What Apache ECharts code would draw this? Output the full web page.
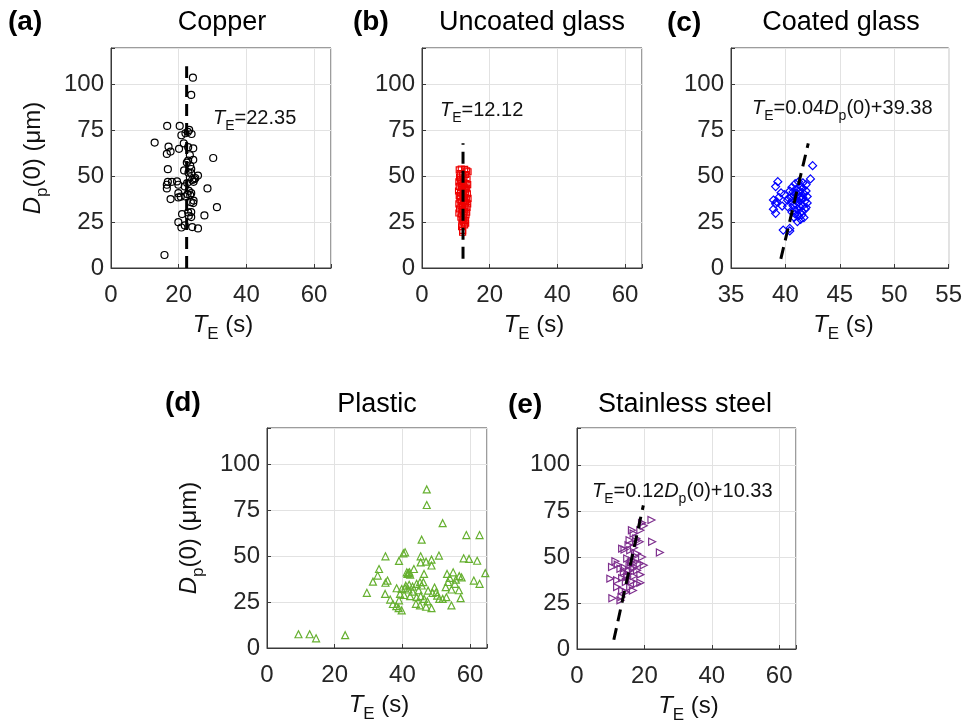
<!DOCTYPE html>
<html>
<head>
<meta charset="utf-8">
<script src="https://cdn.jsdelivr.net/npm/echarts@6/dist/echarts.min.js"></script>
<style>
  html, body { margin: 0; padding: 0; background: #fff; }
  #chart { width: 965px; height: 723px; }
</style>
</head>
<body>
<div id="chart"></div>
<script>
// points: [T_E (s), D_p(0) (um)]
const copper = [
  [24.2,103.8],[23.7,94.4],[16.6,77.5],[20.3,77.5],[23.1,75.3],[22.7,74.2],[23.8,73.1],[20.8,72.4],
  [22.0,73.5],[12.9,68.4],[21.5,68.0],[17.0,66.2],[22.8,65.9],[24.3,65.3],[17.6,63.5],[16.5,62.2],
  [20.1,65.0],[23.3,61.5],[30.2,60.0],[22.8,58.6],[24.3,59.0],[23.4,55.9],[16.8,53.9],[21.6,53.2],
  [23.7,54.0],[23.7,51.7],[25.7,50.4],[24.9,49.0],[24.0,48.0],[24.4,47.0],[16.8,47.0],[18.0,47.0],
  [19.5,47.2],[16.5,45.4],[19.9,45.4],[22.5,46.3],[16.5,43.4],[21.8,44.5],[28.5,43.4],[23.0,42.1],
  [19.9,40.8],[23.7,40.8],[23.4,39.7],[19.9,38.5],[17.6,37.6],[22.0,39.0],[24.3,35.4],[24.4,36.8],
  [31.3,33.2],[21.0,29.4],[22.8,30.3],[23.7,30.5],[23.0,28.5],[27.6,28.7],[23.7,27.8],[19.9,25.0],
  [20.8,22.1],[21.8,23.2],[24.0,22.3],[25.7,21.6],[15.8,7.1],[22.9,52.0],[23.3,49.5],[24.6,48.4],
  [22.4,57.5],[23.6,35.9],[22.6,40.2],[20.6,38.9]
];
const uncoated = [
  [11.0,53.5],[11.6,54.0],[12.6,53.8],[13.2,53.0],[13.6,52.5],[11.3,51.5],[12.0,50.8],[12.9,51.0],
  [11.1,49.5],[11.8,48.2],[12.4,49.0],[13.3,48.5],[10.9,47.0],[11.5,46.2],[12.2,46.8],[13.0,46.0],
  [13.5,45.5],[11.0,44.5],[11.7,43.8],[12.5,44.2],[13.2,43.5],[10.8,42.0],[11.4,41.2],[12.1,42.5],
  [12.8,41.0],[13.4,40.5],[11.0,39.5],[11.9,39.0],[12.6,38.5],[13.6,38.0],[13.1,37.2],[11.2,37.5],
  [11.6,36.2],[12.3,36.8],[12.9,35.5],[10.9,35.0],[11.5,34.0],[12.0,33.5],[12.7,33.8],[13.3,33.0],
  [11.1,32.2],[11.8,31.5],[12.5,31.0],[13.2,30.5],[10.9,30.0],[11.6,29.5],[12.2,28.8],[13.0,29.0],
  [12.4,27.5],[11.9,26.5],[12.8,26.0],[12.2,25.0],[11.8,24.0],[12.6,23.5],[11.7,22.5],[12.0,20.5],
  [12.1,45.0],[11.4,48.5],[12.9,43.0],[12.3,40.0],[11.3,38.8],[12.7,36.0],[12.0,31.8],[13.5,35.0],
  [11.5,27.8],[12.9,24.5],[12.0,19.5]
];
const coated = [
  [42.5,55.8],[42.3,48.6],[39.3,47.1],[39.1,44.4],[39.6,41.0],[38.9,37.1],[39.1,35.0],[39.7,33.8],
  [38.9,32.1],[39.1,29.8],[39.8,20.7],[40.4,21.6],[40.4,20.2],[39.4,38.5],[39.2,36.2],[39.9,40.0],
  [40.2,37.0],[40.6,44.0],[40.9,46.0],[41.2,47.0],[41.6,46.5],[41.9,45.5],[40.7,41.5],[41.0,43.0],
  [41.3,42.0],[41.6,43.5],[41.9,42.0],[40.5,38.5],[40.8,39.5],[41.1,40.0],[41.4,39.0],[41.7,40.5],
  [42.0,39.0],[40.6,36.5],[40.9,37.0],[41.2,36.0],[41.5,37.5],[41.8,36.5],[42.0,35.5],[40.7,34.0],
  [41.0,34.5],[41.3,33.5],[41.6,34.0],[41.9,33.0],[40.8,31.5],[41.1,32.0],[41.5,31.0],[41.8,32.0],
  [40.9,29.5],[41.2,28.5],[41.5,29.0],[40.8,27.6],[41.1,25.3],[41.4,26.5],[40.6,30.5],[41.3,38.0],
  [41.6,38.5],[41.0,41.0],[41.4,44.5],[40.4,42.0],[40.3,38.0],[40.2,33.5],[41.7,27.5]
];
const plastic = [
  [9.3,7.5],[12.6,7.5],[14.5,5.3],[23.1,7.0],[47.2,86.5],[47.2,78.0],[51.9,68.1],[58.9,61.6],
  [62.8,61.6],[45.7,59.1],[40.3,51.6],[40.8,52.2],[35.0,50.0],[39.0,47.5],[45.4,50.0],[45.4,46.7],
  [47.0,47.1],[48.6,48.2],[48.6,45.0],[50.8,50.4],[58.1,48.9],[59.7,48.6],[62.1,47.6],[33.1,43.1],
  [32.7,39.5],[31.3,36.2],[35.0,35.6],[35.6,36.8],[29.5,30.1],[41.3,41.3],[42.1,41.3],[41.5,40.4],
  [42.3,40.0],[41.8,40.8],[43.4,43.1],[46.4,40.4],[53.2,40.4],[55.0,41.3],[56.8,39.2],[54.0,38.2],
  [55.8,37.3],[52.8,33.2],[54.5,31.9],[56.7,31.5],[61.1,36.8],[62.8,35.0],[64.5,40.8],[34.9,29.5],
  [36.4,26.4],[37.2,24.0],[38.2,22.8],[38.9,21.7],[39.8,20.5],[38.3,32.6],[39.8,32.2],[40.8,32.6],
  [41.8,31.9],[39.3,29.5],[40.5,28.9],[42.3,28.3],[44.2,35.0],[45.2,35.9],[45.7,34.1],[46.2,35.9],
  [43.0,30.8],[44.2,27.7],[45.4,28.3],[46.4,26.8],[47.4,25.4],[44.0,24.1],[45.2,23.2],[47.0,22.5],
  [48.6,21.7],[47.6,31.3],[48.9,30.1],[50.3,28.6],[50.9,26.8],[53.0,27.7],[51.9,26.8],[54.5,23.2],
  [57.2,27.2],[43.0,33.5],[42.0,34.5],[50.0,30.5],[49.5,33.0],[55.5,35.0],[57.5,38.5],[53.5,36.0],
  [41.0,34.0],[39.0,26.0],[44.8,31.5]
];
const steel = [
  [22.1,70.0],[19.3,68.5],[19.8,66.9],[18.8,64.5],[22.3,58.2],[24.6,52.4],[16.3,64.5],[16.8,62.7],
  [17.6,60.0],[15.6,59.1],[18.6,58.2],[13.4,54.5],[14.1,54.0],[15.8,53.6],[17.8,51.8],[19.3,50.0],
  [14.9,49.1],[16.3,48.0],[17.3,47.2],[18.6,46.3],[19.8,45.5],[11.4,47.6],[12.1,45.8],[10.4,44.5],
  [12.9,43.6],[13.9,41.8],[15.0,40.4],[9.9,38.2],[11.9,37.3],[13.4,38.5],[14.5,36.4],[16.3,36.7],
  [17.8,35.5],[18.8,36.0],[11.9,33.6],[13.4,31.8],[14.5,30.9],[16.6,31.8],[10.5,27.6],[12.9,26.4],
  [13.2,28.2],[15.3,56.4],[16.6,43.6],[15.6,45.5],[17.8,42.7],[18.8,40.4],[14.9,39.1],[15.8,33.6],
  [16.9,55.0],[17.2,50.5],[16.0,47.0],[17.0,44.5],[15.4,42.5],[16.8,39.5],[14.2,44.0],[17.5,58.5]
];

// dashed fit lines, end points as drawn
const copperFit = [[22.35, 0], [22.35, 110]];
const uncoatedFit = [[12.12, 5], [12.12, 68]];
const coatedFit = [[39.58, 5], [42.10, 68]];
const steelFit = [[10.93, 5], [19.69, 78]];

const xTicksWide = [0, 20, 40, 60];
const xTicksCoated = [35, 40, 45, 50, 55];
const yTicks = [0, 25, 50, 75, 100];

const FONT = 'Liberation Sans';
const AX = '#3a3a3a';

const panels = [
  { box: [111, 48, 220, 220], xMin: 0, xMax: 65, step: 20, ticks: xTicksWide, pts: copper, fit: copperFit, color: '#000000', symbol: 'circle', size: 7, rot: 0 },
  { box: [422, 48, 220, 220], xMin: 0, xMax: 65, step: 20, ticks: xTicksWide, pts: uncoated, fit: uncoatedFit, color: '#ee0000', symbol: 'rect', size: 6, rot: 0 },
  { box: [731, 48, 221, 220], xMin: 35, xMax: 55, step: 5, ticks: xTicksCoated, pts: coated, fit: coatedFit, color: '#0000ff', symbol: 'diamond', size: 8, rot: 0 },
  { box: [267, 428, 220, 220], xMin: 0, xMax: 65, step: 20, ticks: xTicksWide, pts: plastic, fit: null, color: '#66b030', symbol: 'triangle', size: 7, rot: 0 },
  { box: [577, 428, 219, 221], xMin: 0, xMax: 65, step: 20, ticks: xTicksWide, pts: steel, fit: steelFit, color: '#7e2f8e', symbol: 'triangle', size: 7, rot: -90 }
];

function rich(size, sub, lh, slh) {
  return {
    n: { fontSize: size, fontFamily: FONT, lineHeight: lh, fill: '#111' },
    i: { fontSize: size, fontFamily: FONT, fontStyle: 'italic', lineHeight: lh, fill: '#111' },
    s: { fontSize: sub, fontFamily: FONT, lineHeight: slh, verticalAlign: 'bottom', fill: '#111' }
  };
}

function label(text, x, y, opts) {
  return Object.assign({
    type: 'text', x: x, y: y, z: 100,
    style: Object.assign({ text: text, align: 'left', verticalAlign: 'middle', fill: '#111' }, opts.style)
  }, opts.el || {});
}

const annoRich = rich(20, 14, 30, 12);
const axisRich = rich(24, 17, 36, 11);

const texts = [
  ['Copper', 222, 23], ['Uncoated glass', 532, 23], ['Coated glass', 841, 23],
  ['Plastic', 377, 405], ['Stainless steel', 685, 405]
].map(t => label(t[0], t[1], t[2], { style: { align: 'center', fontSize: 27, fontFamily: FONT, fill: '#000' } }));

const tags = [
  ['(a)', 8, 22], ['(b)', 353, 22], ['(c)', 667, 23], ['(d)', 165, 403], ['(e)', 508, 405]
].map(t => label(t[0], t[1], t[2], { style: { fontSize: 28, fontWeight: 'bold', fontFamily: FONT, fill: '#000' } }));

const annos = [
  ['{i|T}{s|E}{n|=22.35}', 213, 118],
  ['{i|T}{s|E}{n|=12.12}', 440, 110],
  ['{i|T}{s|E}{n|=0.04}{i|D}{s|p}{n|(0)+39.38}', 752, 108],
  ['{i|T}{s|E}{n|=0.12}{i|D}{s|p}{n|(0)+10.33}', 592, 491]
].map(t => label(t[0], t[1], t[2], { style: { rich: annoRich } }));

const xNames = panels.map(p => label('{i|T}{s|E}{n| (s)}', p.box[0] + p.box[2] / 2 + 2, p.box[1] + p.box[3] + 57,
  { style: { align: 'center', rich: axisRich } }));

const yNames = [[33, 158], [189, 538]].map(c => label('{i|D}{s|p}{n|(0) (μm)}', c[0], c[1],
  { style: { align: 'center', rich: axisRich }, el: { rotation: Math.PI / 2 } }));

const series = [];
panels.forEach((p, i) => {
  series.push({
    type: 'scatter', xAxisIndex: i, yAxisIndex: i, data: p.pts,
    symbol: p.symbol, symbolSize: p.size, symbolRotate: p.rot,
    itemStyle: { color: 'transparent', borderColor: p.color, borderWidth: 1.2, opacity: 1 }
  });
  if (p.fit) {
    series.push({
      type: 'line', xAxisIndex: i, yAxisIndex: i, data: p.fit, symbol: 'none', z: 5,
      lineStyle: { color: '#000', width: 3, type: [12, 7] }
    });
  }
});

const chart = echarts.init(document.getElementById('chart'));
chart.setOption({
  animation: false,
  backgroundColor: '#fff',
  grid: panels.map(p => ({
    left: p.box[0], top: p.box[1], width: p.box[2], height: p.box[3],
    show: true, borderColor: AX, borderWidth: 1, backgroundColor: 'transparent'
  })),
  xAxis: panels.map((p, i) => ({
    type: 'value', gridIndex: i, min: p.xMin, max: p.xMax, interval: p.step,
    axisLine: { onZero: false, lineStyle: { color: AX, width: 1 } },
    axisTick: { inside: true, length: 4, lineStyle: { color: AX } },
    axisLabel: { formatter: v => p.ticks.includes(v) ? String(v) : '', fontSize: 24, color: '#262626', fontFamily: FONT, margin: 15 },
    splitLine: { show: true, lineStyle: { color: '#e2e2e2', width: 1 } }
  })),
  yAxis: panels.map((p, i) => ({
    type: 'value', gridIndex: i, min: 0, max: 120, interval: 25,
    axisLine: { onZero: false, lineStyle: { color: AX, width: 1 } },
    axisTick: { inside: true, length: 4, lineStyle: { color: AX } },
    axisLabel: { formatter: v => yTicks.includes(v) ? String(v) : '', fontSize: 24, color: '#262626', fontFamily: FONT, margin: 7 },
    splitLine: { show: true, lineStyle: { color: '#e2e2e2', width: 1 } }
  })),
  series: series,
  graphic: texts.concat(tags, annos, xNames, yNames)
});
</script>
</body>
</html>
